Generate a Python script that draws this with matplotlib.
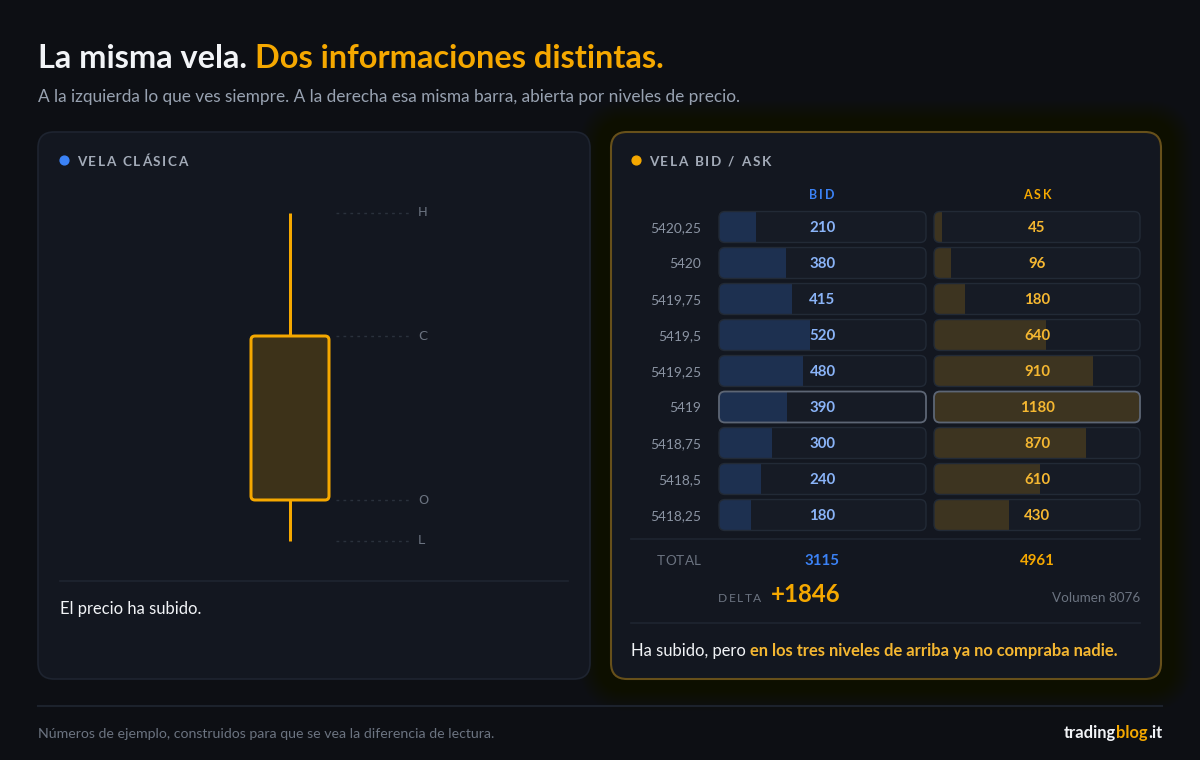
import matplotlib.pyplot as plt
from matplotlib.patches import FancyBboxPatch

# ---- data ----
prices = [5420.25, 5420, 5419.75, 5419.5, 5419.25, 5419, 5418.75, 5418.5, 5418.25]
bid = [210, 380, 415, 520, 480, 390, 300, 240, 180]
ask = [45, 96, 180, 640, 910, 1180, 870, 610, 430]
ohlc = {'O': 5418.5, 'H': 5420.25, 'L': 5418.25, 'C': 5419.5}

BG = '#0d0f14'
PANEL = '#131720'
EDGE = '#1e2430'
ORANGE = '#f5a800'
BLUE = '#3b82f6'
WHITE = '#f2f4f7'
GREY = '#8b94a3'
DIM = '#6b7380'
CELL = '#161b25'
CELL_EDGE = '#222a36'
BIDBAR = '#1d3050'
ASKBAR = '#3d3420'
BIDTXT = '#8ab4f8'
ASKTXT = '#f5b731'

plt.rcParams['font.family'] = ['Lato', 'DejaVu Sans']

W, H = 1200, 760
fig = plt.figure(figsize=(12, 7.6), dpi=100)
fig.patch.set_facecolor(BG)
ax = fig.add_axes([0, 0, 1, 1])
ax.set_xlim(0, W)
ax.set_ylim(H, 0)
ax.axis('off')
R = fig.canvas.get_renderer()


def pt(px):
    return px * 0.72


def px_axes(x0, y0, x1, y1):
    a = fig.add_axes([x0 / W, 1 - y1 / H, (x1 - x0) / W, (y1 - y0) / H])
    a.axis('off')
    return a


def rbox(a, x, y, w, h, r, aspect=1, **kw):
    p = FancyBboxPatch((x, y), w, h, boxstyle=f"round,pad=0,rounding_size={r}",
                       mutation_aspect=aspect, **kw)
    a.add_patch(p)
    return p


def chain(x, y, parts, size, ha='left', **kw):
    # parts: list of (text, color, weight); drawn side by side
    t = None
    if ha == 'right':
        parts = parts[::-1]
    for s, c, wgt in parts:
        if t is None:
            t = ax.text(x, y, s, color=c, fontsize=pt(size), fontweight=wgt,
                        ha=ha, va='center', **kw)
        else:
            t = ax.annotate(s, xy=(0 if ha == 'right' else 1, 0), xycoords=t,
                            color=c, fontsize=pt(size), fontweight=wgt,
                            ha=ha, va='bottom', **kw)
    return t


def spaced(x, y, s, size, sp, ha='left', **kw):
    widths = []
    for ch in s:
        if ch == ' ':
            widths.append(size * 0.28)
        else:
            t = ax.text(0, 0, ch, fontsize=pt(size), **kw)
            widths.append(t.get_window_extent(R).width)
            t.remove()
    total = sum(widths) + sp * (len(s) - 1)
    if ha == 'center':
        x -= total / 2
    elif ha == 'right':
        x -= total
    for ch, w in zip(s, widths):
        if ch != ' ':
            ax.text(x, y, ch, fontsize=pt(size), ha='left', va='center', **kw)
        x += w + sp


# ---- title ----
chain(38, 59, [('La misma vela. ', WHITE, 'bold'),
               ('Dos informaciones distintas.', ORANGE, 'bold')], 32.5)
ax.text(38, 97, 'A la izquierda lo que ves siempre. A la derecha esa misma barra, '
        'abierta por niveles de precio.', color='#98a2b1', fontsize=pt(17.2), va='center')

# ---- panels ----
rbox(ax, 38, 132, 552, 547, 16, facecolor=PANEL, edgecolor=EDGE, lw=1.2, zorder=1)
for k in range(32, 0, -1):
    rbox(ax, 611 - k, 132 - k, 550 + 2 * k, 547 + 2 * k, 16 + k,
         facecolor=ORANGE, edgecolor='none', alpha=0.0042, zorder=0)
rbox(ax, 611, 132, 550, 547, 16, facecolor=PANEL, edgecolor='#67501a',
     lw=1.5, zorder=1)

ax.scatter([64], [160], s=40, color=BLUE, zorder=3)
spaced(77, 162, 'VELA CLÁSICA', 13.5, 1.6, color='#a3abb8', fontweight='bold')
ax.scatter([636], [160], s=40, color=ORANGE, zorder=3)
spaced(649, 162, 'VELA BID / ASK', 13.5, 1.6, color='#a3abb8', fontweight='bold')

# ---- classic candle ----
cax = px_axes(240, 213, 440, 541)
cax.set_xlim(0, 200)
cax.set_ylim(ohlc['L'], ohlc['H'])
yupp = (ohlc['H'] - ohlc['L']) / 328
cx = 50
cax.vlines(cx, ohlc['C'], ohlc['H'], color=ORANGE, lw=pt(3), clip_on=False)
cax.vlines(cx, ohlc['L'], ohlc['O'], color=ORANGE, lw=pt(3), clip_on=False)
rbox(cax, cx - 39, ohlc['O'], 78, ohlc['C'] - ohlc['O'], 4, aspect=yupp,
     facecolor='#3d3219', edgecolor=ORANGE, lw=pt(3), clip_on=False, zorder=3)
for k in ['H', 'C', 'O', 'L']:
    cax.hlines(ohlc[k], 96, 170, color='#2a313c', lw=1, linestyles=(0, (2, 3)), clip_on=False)
    cax.text(178, ohlc[k], k, color=DIM, fontsize=pt(13), va='center', ha='left',
             family='DejaVu Sans')

ax.plot([60, 568], [581, 581], color='#1f2530', lw=1.2)
ax.text(60, 609, 'El precio ha subido.', color=WHITE, fontsize=pt(16.5), va='center')

# ---- bid / ask ladder ----
n = len(prices)
vmax = max(max(bid), max(ask))
vol = [b + a for b, a in zip(bid, ask)]
poc = vol.index(max(vol))

spaced(822, 195, 'BID', 12.5, 2.0, ha='center', color=BLUE, fontweight='bold')
spaced(1037, 195, 'ASK', 12.5, 2.0, ha='center', color=ORANGE, fontweight='bold')

for side, (x0, x1), vals, barc, txtc in [
        ('bid', (719, 926), bid, BIDBAR, BIDTXT),
        ('ask', (934, 1140), ask, ASKBAR, ASKTXT)]:
    a = px_axes(x0, 209, x1, 533)
    a.set_xlim(0, vmax)
    a.set_ylim(n - 0.5, -0.5)
    xupp = vmax / (x1 - x0)
    yupp_r = n / 324
    asp = yupp_r / xupp
    bars = a.barh(range(n), vals, height=0.86, color=barc, zorder=2)
    for i, v in enumerate(vals):
        cell = rbox(a, 0, i - 0.43, vmax, 0.86, 6 * xupp, aspect=asp,
                    facecolor=CELL, edgecolor='none', clip_on=False, zorder=1)
        bars[i].set_clip_path(cell)
        hl = i == poc
        rbox(a, 0, i - 0.43, vmax, 0.86, 6 * xupp, aspect=asp, facecolor='none',
             edgecolor='#5d6675' if hl else CELL_EDGE, lw=1.3 if hl else 1,
             clip_on=False, zorder=3)
        a.text(vmax / 2, i + 1.5 * yupp_r, str(v), color=txtc, fontsize=pt(15),
               fontweight='bold', ha='center', va='center', zorder=4)
    if side == 'bid':
        for i, p in enumerate(prices):
            a.text(-18 * xupp, i + 1.5 * yupp_r, f'{p:g}'.replace('.', ','), color=GREY,
                   fontsize=pt(13.8), ha='right', va='center', clip_on=False)

ax.plot([631, 1140], [539, 539], color='#1f2530', lw=1.2)
spaced(701, 561, 'TOTAL', 13.5, 0.4, ha='right', color=DIM)
ax.text(822, 561, str(sum(bid)), color=BLUE, fontsize=pt(15), fontweight='bold',
        ha='center', va='center')
ax.text(1037, 561, str(sum(ask)), color=ORANGE, fontsize=pt(15), fontweight='bold',
        ha='center', va='center')
spaced(718, 598, 'DELTA', 12, 1.4, color=DIM)
ax.text(771, 594, f'{sum(ask) - sum(bid):+d}', color=ORANGE, fontsize=pt(24),
        fontweight='bold', ha='left', va='center')
ax.text(1140, 598, f'Volumen {sum(vol)}', color=DIM, fontsize=pt(13.5),
        ha='right', va='center')
ax.plot([631, 1140], [623, 623], color='#1f2530', lw=1.2)
chain(631, 651, [('Ha subido, pero ', WHITE, 'normal'),
                 ('en los tres niveles de arriba ya no compraba nadie.', ASKTXT, 'bold')], 16.5)

# ---- footer ----
ax.plot([38, 1162], [706, 706], color='#1c222c', lw=1.5)
ax.text(38, 734, 'Números de ejemplo, construidos para que se vea la diferencia de lectura.',
        color=DIM, fontsize=pt(14.1), va='center')
chain(1162, 733, [('trading', WHITE, 'bold'), ('blog', ORANGE, 'bold'),
                  ('.it', WHITE, 'bold')], 16.5, ha='right')

fig.savefig('out.png', dpi=100, facecolor=BG)
